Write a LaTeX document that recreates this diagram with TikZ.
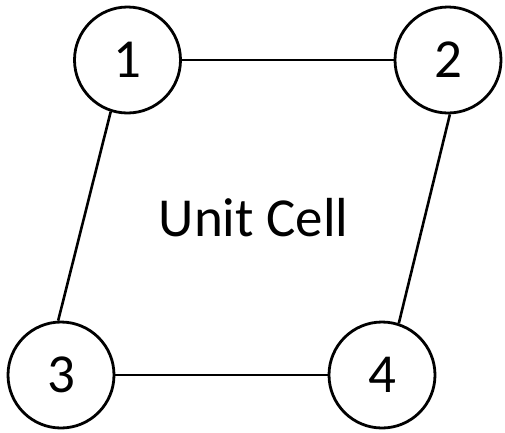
\documentclass[tikz,border=0pt]{standalone}
\usepackage{fontspec}
\setmainfont{Carlito}
\begin{document}
\begin{tikzpicture}[x=1pt, y=-1pt, every node/.style={font=\fontsize{55}{60}\selectfont},
	site/.style={draw, circle, line width=2.8pt, minimum size=106pt, inner sep=0pt},
	bond/.style={line width=2.6pt}]
	\useasboundingbox (0,0) rectangle (505,432);
	
	\foreach \n/\x/\y in {1/127.5/60, 2/448/60, 3/61/375, 4/382/375}
	{
		\node[site] (n\n) at (\x, \y) {\n};
	}
	\node (cell) at (253.5, 217.5) {Unit Cell};
	
	\draw[bond] (n1) -- (n2);
	\draw[bond] (n3) -- (n4);
	\draw[bond] (n1.-108) -- (n3.93);
	\draw[bond] (n2.-88) -- (n4.72);
\end{tikzpicture}
\end{document}
